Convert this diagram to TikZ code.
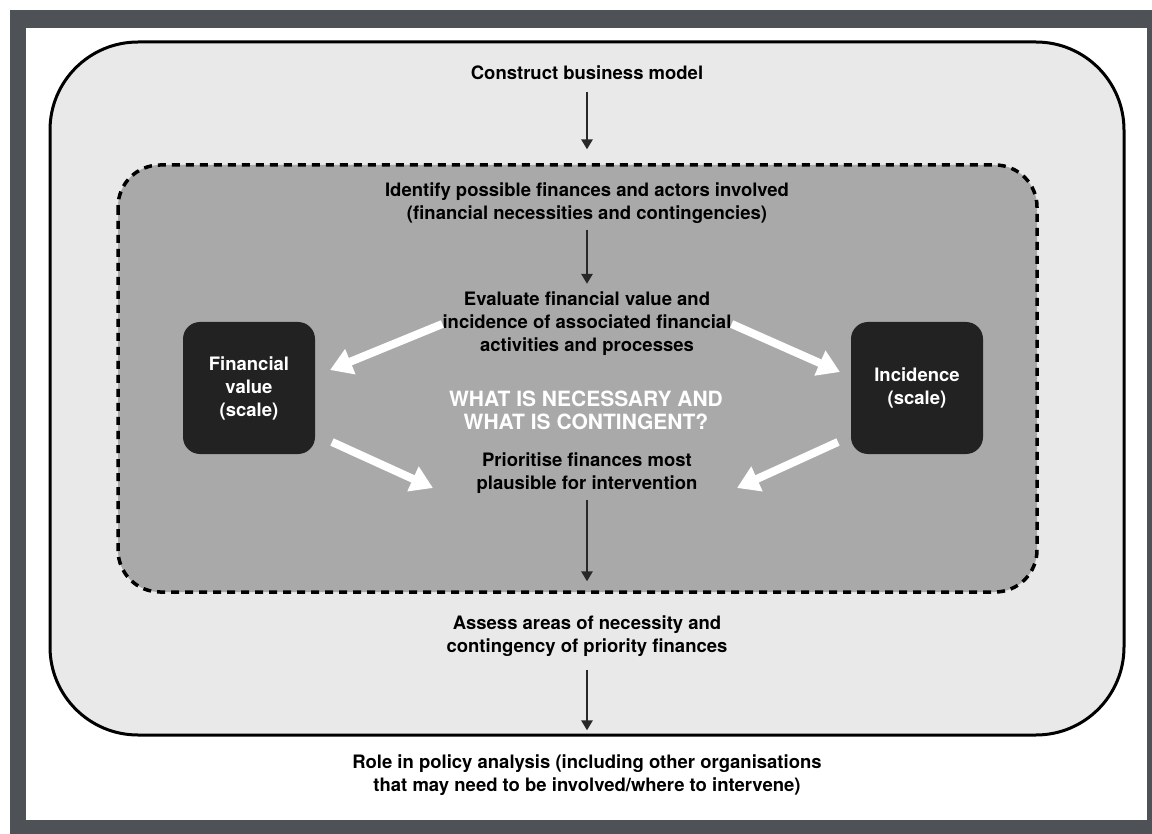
\documentclass[tikz,border=0pt]{standalone}
\usepackage{fontspec}
\setmainfont{TeX Gyre Heros}
\usepackage{tikz}
\usetikzlibrary{arrows.meta,calc,positioning}
\definecolor{framegrey}{RGB}{78,82,86}
\definecolor{outerfill}{RGB}{233,233,233}
\definecolor{innerfill}{RGB}{169,169,169}
\definecolor{boxblack}{RGB}{34,34,34}
\definecolor{arrowblack}{RGB}{40,40,40}

\begin{document}
\begin{tikzpicture}[
  x=1pt, y=-1pt,
  font=\fontsize{18.5}{23}\selectfont\bfseries,
  txt/.style={align=center, inner sep=0pt},
  scalebox/.style={fill=boxblack, rounded corners=17pt, text=white, align=center, minimum width=132pt, minimum height=132pt, inner sep=0pt},
  arr/.style={-{Triangle[length=10pt,width=11pt]}, line width=2.5pt, draw=arrowblack},
  warr/.style={-{Triangle[length=22pt,width=26pt]}, line width=8pt, draw=white}
]
\useasboundingbox (0,0) rectangle (1152,834);
\fill[white] (0,0) rectangle (1152,834);
\fill[framegrey] (10,10) rectangle (1152,834);
\fill[white] (26,28) rectangle (1147,820);
\draw[line width=3pt, fill=outerfill, rounded corners=88pt] (50,42) rectangle (1124,735);
\draw[line width=3.5pt, dash pattern=on 8pt off 6pt, fill=innerfill, rounded corners=42pt] (118,165) rectangle (1037,592);

\node[txt] (construct) at (587,73) {Construct business model};
\node[txt] (identify) at (587,203) {Identify possible finances and actors involved\\(financial necessities and contingencies)};
\node[txt] (evaluate) at (587,324) {Evaluate financial value and\\incidence of associated financial\\activities and processes};
\node[txt, text=white, font=\fontsize{21}{23}\selectfont\bfseries] (question) at (586,410) {WHAT IS NECESSARY AND\\WHAT IS CONTINGENT?};
\node[txt] (prioritise) at (587,473) {Prioritise finances most\\plausible for intervention};
\node[txt] (assess) at (587,636) {Assess areas of necessity and\\contingency of priority finances};
\node[txt] (role) at (587,775) {Role in policy analysis (including other organisations\\that may need to be involved/where to intervene)};
\node[scalebox] (finval) at (249,388) {Financial\\value\\(scale)};
\node[scalebox] (incid) at (917,388) {Incidence\\(scale)};

\coordinate (fv-in) at (330,370);
\coordinate (inc-in) at (840,372);
\coordinate (fv-out) at (332,442);
\coordinate (inc-out) at (838,442);
\coordinate (prio-l) at (433,488);
\coordinate (prio-r) at (737,488);

\draw[arr, shorten <=12pt, shorten >=33pt] (construct) -- (identify);
\draw[arr, shorten <=6pt, shorten >=8pt] (identify) -- (evaluate);
\draw[arr, shorten <=6pt, shorten >=34pt] (prioritise) -- (assess);
\draw[arr, shorten <=13pt, shorten >=24pt] (assess) -- (role);

\draw[warr] (evaluate.west) -- (fv-in);
\draw[warr] (evaluate.east) -- (inc-in);
\draw[warr] (fv-out) -- (prio-l);
\draw[warr] (inc-out) -- (prio-r);
\end{tikzpicture}
\end{document}
